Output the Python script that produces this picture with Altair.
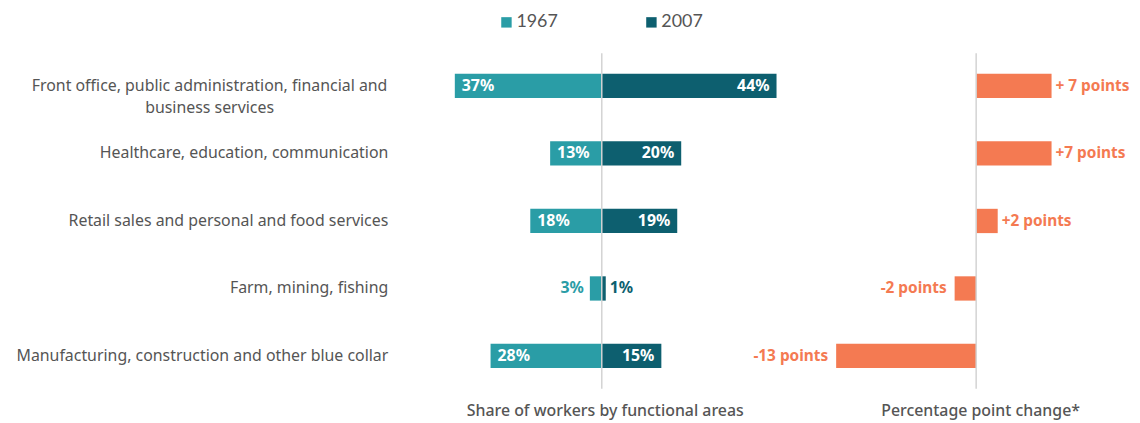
import altair as alt
import pandas as pd

# ---- data ----
categories = [
    "Front office, public administration, financial and\nbusiness services",
    "Healthcare, education, communication",
    "Retail sales and personal and food services",
    "Farm, mining, fishing",
    "Manufacturing, construction and other blue collar",
]
years = ["1967", "2007"]
share_1967 = [37, 13, 18, 3, 28]
share_2007 = [44, 20, 19, 1, 15]
change_points = [7, 7, 2, -2, -13]
change_labels = ["+ 7  points", "+7 points", "+2 points", "-2 points", "-13 points"]

# ---- styles ----
C1967 = "#2a9da6"
C2007 = "#0d5f6f"
CORANGE = "#f47a52"
GRAY = "#555555"
RULE = "#d3d3d3"
FONT = "Noto Sans"

rows = []
for c, a, b in zip(categories, share_1967, share_2007):
    rows.append({"category": c, "year": "1967", "value": a, "signed": -a, "label": f"{a}%"})
    rows.append({"category": c, "year": "2007", "value": b, "signed": b, "label": f"{b}%"})
share_df = pd.DataFrame(rows)
change_df = pd.DataFrame({"category": categories, "change": change_points, "label": change_labels})
label_df = pd.DataFrame({"category": categories, "multi": ["\n" in c for c in categories]})
zero_df = pd.DataFrame({"zero": [0]})

Y = alt.Y(
    "category:N",
    sort=categories,
    scale=alt.Scale(paddingInner=0.64, paddingOuter=0.306),
    axis=None,
)

left_x = alt.X(
    "signed:Q",
    scale=alt.Scale(domain=[-50, 132.5], nice=False, zero=False),
    axis=alt.Axis(
        title="Share of workers by functional areas",
        orient="bottom",
        labels=False, ticks=False, domain=False, grid=False,
        titleX=203, titleY=27, titleAlign="center", titleBaseline="alphabetic",
        titleFont=FONT, titleFontSize=16, titleFontWeight=500, titleColor=GRAY,
    ),
)

bars = alt.Chart(share_df).mark_bar().encode(
    x=left_x,
    y=Y,
    color=alt.Color(
        "year:N",
        scale=alt.Scale(domain=years, range=[C1967, C2007]),
        legend=alt.Legend(
            title=None, orient="none", direction="horizontal", columns=2,
            legendX=95, legendY=-40,
            symbolType="square", symbolSize=110, symbolStrokeWidth=0,
            labelFont="Lato", labelFontSize=18, labelColor=GRAY,
            labelOffset=1, columnPadding=85,
        ),
    ),
)

txt = dict(font=FONT, fontSize=16, fontWeight="bold", baseline="middle")
t67_in = alt.Chart(share_df).transform_filter(
    "datum.year == '1967' && datum.value >= 5"
).mark_text(align="left", dx=7, color="white", **txt).encode(x="signed:Q", y=Y, text="label:N")
t67_out = alt.Chart(share_df).transform_filter(
    "datum.year == '1967' && datum.value < 5"
).mark_text(align="right", dx=-6, color=C1967, **txt).encode(x="signed:Q", y=Y, text="label:N")
t07_in = alt.Chart(share_df).transform_filter(
    "datum.year == '2007' && datum.value >= 5"
).mark_text(align="right", dx=-7, color="white", **txt).encode(x="signed:Q", y=Y, text="label:N")
t07_out = alt.Chart(share_df).transform_filter(
    "datum.year == '2007' && datum.value < 5"
).mark_text(align="left", dx=4, color=C2007, **txt).encode(x="signed:Q", y=Y, text="label:N")

rule_left = alt.Chart(zero_df).mark_rule(color=RULE, strokeWidth=1.5).encode(x="zero:Q")

cat_txt = dict(font=FONT, fontSize=16, color=GRAY, baseline="middle", lineBreak="\n", lineHeight=22)
cat_single = alt.Chart(label_df).transform_filter("!datum.multi").mark_text(
    align="right", **cat_txt
).encode(x=alt.value(-15), y=Y, text="category:N")
cat_multi = alt.Chart(label_df).transform_filter("datum.multi").mark_text(
    align="center", **cat_txt
).encode(x=alt.value(-195), y=Y, text="category:N")

left = alt.layer(bars, t67_in, t67_out, t07_in, t07_out, rule_left, cat_single, cat_multi)

right_x = alt.X(
    "change:Q",
    scale=alt.Scale(domain=[-53.2, 14.1], nice=False, zero=False),
    axis=alt.Axis(
        title="Percentage point change*",
        orient="bottom",
        labels=False, ticks=False, domain=False, grid=False,
        titleX=581, titleY=27, titleAlign="center", titleBaseline="alphabetic",
        titleFont=FONT, titleFontSize=16, titleFontWeight=500, titleColor=GRAY,
    ),
)

ctxt = dict(font=FONT, fontSize=15.5, fontWeight="bold", baseline="middle")
bars_c = alt.Chart(change_df).mark_bar(color=CORANGE).encode(x=right_x, y=Y)
tc_pos = alt.Chart(change_df).transform_filter("datum.change > 0").mark_text(
    align="left", dx=4, color=CORANGE, **ctxt
).encode(x="change:Q", y=Y, text="label:N")
tc_neg = alt.Chart(change_df).transform_filter("datum.change < 0").mark_text(
    align="right", dx=-8, color=CORANGE, **ctxt
).encode(x="change:Q", y=Y, text="label:N")
rule_right = alt.Chart(zero_df).mark_rule(color=RULE, strokeWidth=1.5).encode(
    x=alt.X("zero:Q")
)

right = alt.layer(bars_c, tc_pos, tc_neg, rule_right)

chart = (
    alt.layer(left, right)
    .resolve_scale(x="independent")
    .resolve_axis(x="independent")
    .properties(
        width=730,
        height=338,
        autosize=alt.AutoSizeParams(type="none"),
        padding={"left": 398, "top": 44, "right": 4, "bottom": 33},
    )
    .configure_view(stroke=None)
)

chart.save("out.html", embed_options={"renderer": "svg", "actions": False})
